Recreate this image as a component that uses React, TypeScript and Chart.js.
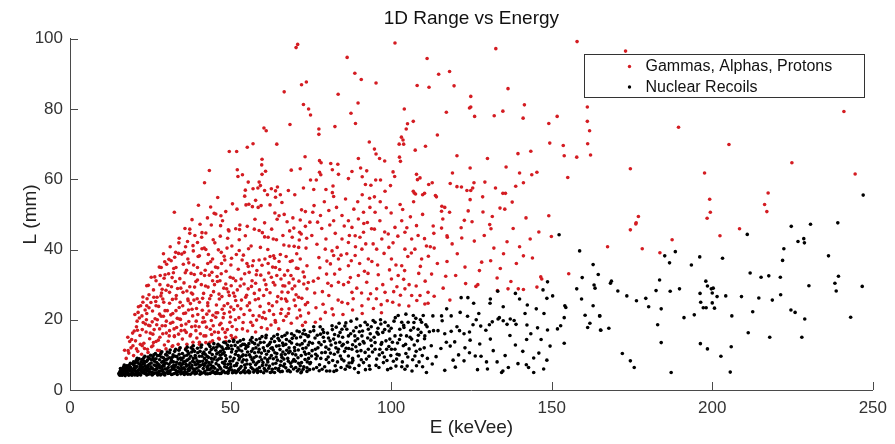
import React, { useEffect, useRef } from "react";
import { Chart, registerables } from "chart.js";

Chart.register(...registerables);

const TITLE = "1D Range vs Energy";
const X_LABEL = "E (keVee)";
const Y_LABEL = "L (mm)";
const SERIES_NAMES = ["Gammas, Alphas, Protons", "Nuclear Recoils"];
const X_TICKS = [0, 50, 100, 150, 200, 250];
const Y_TICKS = [0, 20, 40, 60, 80, 100];

// Gammas, Alphas, Protons  [E (keVee), L (mm)]
const gammaPoints: [number, number][] = [
  [70.9,98.4],[70.4,97.5],[101.2,98.8],[86.3,94.7],[88.7,90.2],[90.7,88.4],[95.3,87.4],[72.1,86.9],[73.6,87.7],[66.7,84.9],[83.5,84.2],[89.7,81.7],[72.7,81.3],[74.3,80.0],[74.9,78.3],[87.5,78.8],[68.5,75.6],[88.9,75.9],[82.5,75.0],[60.4,74.6],[61.1,73.8],[77.5,74.3],[77.5,72.8],[93.2,70.6],[64.4,70.0],[57.0,70.1],[55.2,69.1],[49.6,67.9],[51.9,67.9],[94.8,68.6],[95.3,67.2],[96.4,65.9],[98.0,65.2],[73.2,66.4],[59.8,65.7],[59.7,64.1],[43.4,62.5],[41.9,59.0],[52.1,62.7],[52.3,60.8],[53.7,61.3],[60.9,62.3],[59.8,61.4],[68.9,62.6],[71.7,63.0],[77.7,65.3],[78.2,64.7],[81.2,64.5],[83.4,64.3],[77.7,62.0],[78.1,61.3],[81.7,62.7],[83.6,61.4],[89.8,65.9],[90.5,63.2],[92.4,62.4],[87.8,62.2],[86.7,60.2],[91.0,60.7],[100.6,62.1],[101.1,60.8],[99.8,58.2],[92.0,58.5],[93.7,58.3],[95.2,59.8],[96.7,59.8],[98.1,56.6],[74.9,59.8],[76.7,59.8],[55.5,59.2],[57.0,57.3],[58.9,59.2],[59.3,58.2],[58.5,57.5],[60.6,56.8],[62.7,57.3],[64.0,56.7],[64.6,57.8],[65.5,55.6],[64.0,54.9],[68.0,56.8],[72.7,57.5],[75.9,57.1],[79.7,57.1],[81.7,56.2],[81.9,58.1],[82.1,55.1],[91.0,55.6],[94.8,55.0],[54.6,56.9],[54.4,55.2],
  [157.9,99.2],[173.0,96.5],[132.6,97.2],[111.2,94.4],[114.8,89.9],[118.2,90.7],[108.1,86.7],[111.8,86.2],[119.6,86.6],[136.4,85.8],[124.8,83.6],[124.8,80.6],[124.4,80.3],[104.1,80.0],[117.2,79.1],[126.0,77.9],[132.1,78.1],[134.8,79.4],[141.5,81.2],[141.1,77.4],[161.1,80.6],[161.1,76.5],[161.8,73.8],[161.2,70.1],[162.1,66.9],[151.7,77.9],[149.1,75.9],[106.9,76.5],[105.1,75.8],[104.7,74.3],[103.2,72.0],[103.7,71.2],[103.9,70.0],[102.5,70.0],[114.4,72.6],[110.7,69.4],[107.5,68.3],[149.4,70.3],[153.6,69.6],[153.9,66.7],[157.8,66.3],[143.5,68.0],[139.5,67.3],[120.5,66.7],[130.0,65.9],[102.6,66.3],[102.9,65.1],[124.6,63.2],[135.8,63.5],[119.1,61.8],[140.0,61.8],[143.8,61.3],[145.4,62.0],[174.5,63.0],[155.0,60.5],[107.9,61.4],[108.2,59.9],[109.0,60.4],[111.7,58.5],[112.8,59.0],[118.4,58.8],[120.5,57.9],[121.9,57.8],[123.6,56.8],[124.8,56.8],[125.8,59.0],[125.4,57.5],[129.2,59.2],[132.5,57.5],[134.8,56.0],[135.6,56.0],[138.8,58.0],[141.2,59.0],[106.9,56.6],[107.2,56.1],[107.6,55.8],[109.8,55.6],[110.4,56.0],[113.8,55.4],[114.1,55.0],
  [189.5,74.8],[205.2,69.9],[197.6,61.8],[224.8,64.7],[241.0,79.3],[244.5,61.5],[217.4,56.1],[216.3,52.8],[217.0,50.8],[199.2,54.3],[199.4,50.6],[198.4,48.9],[177.0,49.4],[176.3,47.6],[176.2,47.3],[174.5,45.6],[208.5,45.9],[202.4,43.9],[187.5,42.8],[178.2,40.2],[183.7,39.1],
  [115.8,52.3],[116.7,52.0],[115.7,50.9],[118.2,50.6],[124.6,54.2],[133.9,51.8],[135.4,51.5],[137.7,53.5],[124.0,51.0],[128.6,50.7],[131.5,49.4],[116.1,48.7],[122.8,48.3],[125.2,47.9],[113.1,46.7],[113.3,44.6],[121.8,46.2],[130.7,47.1],[131.1,45.9],[115.7,46.1],[117.4,43.9],[117.5,43.5],[149.1,49.6],[149.9,43.7],[143.3,43.0],[136.1,42.2],[140.0,40.8],[112.2,40.8],[113.4,40.4],[111.6,38.1],[120.6,38.8],[135.0,38.8],[141.2,38.2],[117.4,36.6],[128.2,36.4],[131.0,36.8],[167.4,40.8],[155.3,33.1],[117.0,32.4],[133.0,31.9],[146.6,32.2],[146.9,31.6],[123.2,30.3],[126.4,29.5],[127.0,30.0],[137.3,30.9],[133.1,28.3],[136.4,28.8],[139.6,28.8],[141.2,28.6],[145.4,29.3],[113.4,26.7],[118.3,25.6],[111.5,24.7],
  [112.6,33.0],[114.4,36.0],[116.2,29.0],[119.0,41.6],[120.1,32.6],[122.0,43.3],[123.0,35.0],[125.9,42.4],[127.5,34.0],[129.0,44.0],[132.0,40.4],[134.0,34.6],[138.0,46.0],[139.0,36.0],[142.0,49.0],[144.0,37.6],[146.0,45.0],[128.5,55.0],
  [32.5,50.6],[37.3,45.8],[37.3,44.6],[33.9,41.9],[29.1,38.8],[38.3,41.1],[32.9,39.2],[33.8,38.9],[41.0,43.5],[41.1,40.2],[42.3,44.7],[43.8,52.1],[44.9,50.3],[45.4,50.1],[47.0,49.6],[47.5,48.2],[46.9,46.8],[50.6,53.0],[54.8,52.7],[55.7,52.9],[56.8,52.2],[58.6,52.0],[59.5,52.5],[62.3,52.7],[63.8,50.4],[65.1,49.6],[66.7,50.0],[72.1,51.3],[73.3,50.8],[71.7,48.4],[73.3,46.6],[51.6,45.9],[52.8,45.7],[49.5,45.3],[49.1,43.2],[52.7,42.8],[55.2,46.6],[57.4,45.8],[58.9,45.4],[60.6,43.6],[59.9,44.8],[61.7,43.5],[63.3,43.0],[64.3,42.8],[66.6,41.3],[68.2,41.0],[69.8,40.9],[71.2,40.6],[71.4,42.7],[68.4,45.3],[69.7,46.1],[71.5,44.9],[69.2,43.5],[73.7,43.2],[41.8,40.4],[42.3,40.0],[45.1,41.9],[46.2,39.9],[47.1,39.2],[48.9,40.4],[48.0,38.1],[50.3,37.5],[52.7,39.7],[54.0,38.4],[55.6,40.2],[56.8,35.4],[55.5,35.2],[58.9,37.0],[60.7,37.3],[62.3,38.0],[63.4,38.2],[63.7,37.5],[65.5,38.6],[67.3,38.0],[69.2,36.8],[71.7,37.3],[73.8,35.4],[70.5,34.7],[64.0,34.9],[67.8,34.0],
  [28.1,32.6],[29.6,32.8],[30.7,33.1],[32.2,33.4],[33.0,34.9],[35.3,35.8],[36.3,34.1],[37.7,33.2],[38.7,32.9],[39.7,34.9],[39.7,31.3],[41.9,32.6],[43.4,32.7],[44.2,33.5],[44.4,31.1],[45.8,32.3],[46.7,31.1],[47.1,33.1],[48.5,30.2],[49.9,32.1],[50.2,29.7],[51.6,31.1],[52.1,28.5],[54.2,30.2],[55.5,28.8],[54.7,26.4],[56.7,31.1],[57.8,30.4],[59.4,32.7],[60.5,31.3],[61.9,33.3],[62.7,32.1],[64.4,32.6],[65.7,31.6],[66.3,29.7],[68.2,30.5],[69.2,28.8],[71.3,31.0],[72.8,30.2],[73.8,28.8],
  [24.6,27.1],[22.4,21.1],[23.5,18.8],[24.9,18.3],[25.8,15.9],[27.2,20.0],[27.9,17.4],[29.1,21.0],[29.7,18.3],[31.0,16.9],[32.0,19.3],[32.5,15.4],[34.1,20.2],[34.6,16.9],[36.1,18.8],[37.4,15.4],[38.2,21.1],[39.2,16.9],[40.3,13.6],[41.3,19.3],[42.3,15.4],[43.6,13.6],[44.6,18.3],[45.4,20.7],[46.3,14.7],[47.5,17.4],[48.5,13.8],[49.8,19.3],[50.6,14.7],[51.6,15.0],[53.2,23.1],[53.7,17.4],[55.2,24.0],[56.3,19.3],[57.8,16.5],[58.9,21.1],[60.4,22.1],[61.4,17.4],[63.0,24.0],[64.0,19.3],[65.6,21.8],[67.1,25.9],[68.2,23.1],[70.2,24.0],[71.8,21.1],[73.3,19.3],[19.6,12.6],[18.1,11.2],[20.7,11.7],[22.5,12.6],[24.3,10.7],[25.8,12.6],[27.9,11.2],[29.9,11.7],[32.0,12.6],[34.1,11.8],[36.1,11.9],[38.2,12.5],[40.3,13.0],[42.3,13.5],[44.4,14.0],[46.5,14.5],[48.5,15.0],[50.2,15.5],
  [22.7,25.0],[21.2,22.1],[23.9,24.0],[26.1,26.4],[26.8,24.0],[28.9,25.9],[31.0,27.8],[28.7,28.7],[33.1,26.9],[35.1,24.0],[36.7,25.9],[38.2,27.3],[40.3,25.0],[42.9,24.0],[41.3,26.1],[43.9,26.9],[46.5,25.9],[48.0,24.0],[49.6,26.9],[51.6,25.5],[50.1,23.6],[35.6,39.2],[40.3,38.2],[36.7,37.3],[44.4,37.3],[42.9,36.0],[23.9,29.7],[26.8,31.1],[25.3,32.1],[28.4,34.9],[30.1,35.8],[31.5,36.8],
  [17.5,9.0],[18.3,10.5],[19.0,12.0],[19.8,9.8],[20.4,14.0],[21.1,11.0],[21.8,15.5],[22.3,10.2],[23.0,13.3],[23.7,16.5],[24.1,11.6],[24.8,14.6],[25.4,12.3],[26.2,17.2],[26.8,13.8],[27.3,11.3],[28.0,15.0],[28.7,18.3],[29.4,12.8],[30.0,16.2],[30.6,13.9],[31.3,19.0],[31.8,12.4],[32.5,15.2],[33.2,17.8],[33.7,13.0],[34.4,20.1],[35.0,14.5],[35.7,17.0],[36.4,13.0],[37.0,19.5],[37.6,15.8],[38.3,13.6],[39.0,18.2],[39.5,14.8],[17.0,11.3],[18.6,13.8],[19.5,16.2],[20.7,18.0],[21.6,20.5],[22.8,19.2],[23.9,21.8],[24.5,18.4],[25.7,22.5],[26.5,20.3],[27.6,23.8],[28.4,21.0],[29.2,25.0],[30.3,22.6],[31.0,24.7],[32.0,21.8],[33.0,26.0],[34.0,23.5],[35.2,27.8],[36.0,21.9],[36.8,25.4],[38.0,23.0],[38.8,29.3],[39.8,21.5],[40.6,16.0],[41.5,20.6],[42.5,17.9],[43.3,22.5],[44.0,19.8],[45.0,16.5],[46.0,22.0],[47.0,19.0],[48.0,21.8],[49.0,17.2],[50.0,20.8],[18.0,15.0],[22.0,24.0],[24.0,26.0],[26.0,28.5],[28.0,30.0],[21.0,17.0],
  [40.9,30.0],[41.6,27.5],[42.1,34.1],[43.0,29.3],[43.8,36.5],[44.7,28.0],[45.3,35.0],[45.9,30.9],[46.4,27.3],[47.2,36.0],[47.9,29.0],[48.6,33.8],[49.3,27.9],[50.1,35.6],[50.8,31.8],[51.3,26.7],[52.4,34.4],[53.0,29.6],[53.6,37.0],[54.4,33.1],[55.0,27.0],[55.8,33.5],[56.5,29.5],[57.1,36.8],[57.7,25.7],[58.2,34.0],[59.0,28.5],[59.8,35.5],[60.3,26.9],[61.0,30.0],[61.7,36.0],[62.3,27.7],[63.1,35.0],[63.8,29.9],[64.7,26.6],[65.3,34.3],[66.0,27.9],[66.8,32.7],[67.5,25.3],[68.6,36.6],[69.5,31.6],[70.4,27.1],[71.0,34.6],[72.2,26.1],[73.0,32.2],[74.0,24.9],
  [41.2,22.7],[42.0,19.4],[42.9,24.8],[43.7,17.3],[44.5,21.3],[45.6,24.2],[46.6,18.6],[47.4,23.0],[48.3,16.4],[49.1,24.6],[50.5,18.1],[51.0,22.9],[51.9,17.2],[52.6,20.6],[53.4,25.6],[54.2,21.5],[55.3,16.8],[56.0,22.7],[56.9,18.4],[57.4,27.5],[58.1,19.9],[59.2,23.8],[59.6,17.8],[60.9,20.3],[61.9,24.6],[62.6,18.5],[63.4,21.5],[64.4,25.1],[65.0,17.4],[65.9,23.0],[66.5,19.8],[67.3,21.0],[67.9,27.8],[68.9,19.0],[69.8,25.6],[70.7,20.5],[71.5,22.8],[72.4,18.4],[73.3,24.3],[74.3,21.9],
  [20.2,21.5],[21.3,23.7],[22.7,26.5],[23.4,22.8],[24.4,29.8],[25.2,24.9],[26.4,32.2],[27.1,26.4],[27.8,35.0],[28.5,27.6],[29.3,31.8],[29.9,28.4],[30.8,37.2],[31.6,29.4],[32.3,34.6],[33.5,28.9],[34.2,31.7],[34.8,38.7],[35.5,30.5],[36.4,28.2],[37.0,36.2],[37.8,27.6],[38.5,35.6],[39.2,30.9],[39.9,38.0],[36.6,42.3],[38.9,44.0],[35.8,46.0],[40.5,47.2],[34.0,43.2],[31.2,40.8],[29.5,36.5],[33.0,22.6],[37.5,24.6],[39.6,26.0],
  [19.2,14.4],[20.0,16.8],[20.9,19.6],[21.9,13.0],[22.5,17.2],[23.2,11.8],[23.8,20.0],[24.6,23.4],[25.0,16.2],[25.6,19.4],[26.0,13.5],[26.7,25.2],[27.0,18.6],[27.5,14.2],[27.9,21.6],[28.3,26.8],[28.9,16.0],[29.6,22.6],[30.0,19.6],[30.5,29.8],[30.9,15.4],[31.4,21.4],[31.9,25.8],[32.4,17.4],[32.8,30.9],[33.4,20.4],[33.8,15.9],[34.3,25.0],[34.7,18.4],[35.4,21.8],[35.9,33.4],[36.2,16.4],[36.9,22.8],[37.3,29.4],[37.9,18.0],[38.4,39.6],[38.6,25.6],[39.3,19.6],[39.7,42.0],[39.4,23.2],[34.5,29.0],[32.6,37.8],[36.0,40.8],[31.8,32.0],
  [40.2,18.0],[40.8,33.2],[41.1,44.8],[41.7,15.4],[42.2,29.6],[42.6,21.6],[43.1,38.6],[43.5,26.0],[44.1,15.8],[44.6,42.8],[45.0,30.0],[45.5,22.0],[46.0,34.8],[46.2,16.4],[46.8,43.8],[47.3,26.6],[47.7,20.6],[48.2,37.0],[48.8,28.8],[49.3,45.6],[49.7,22.2],[50.4,41.0],[50.9,27.6],[51.5,20.0],[51.8,38.6],[52.2,24.0],[52.9,47.0],[53.3,31.6],[53.9,19.2],[54.6,43.9],[55.1,36.0],[55.9,24.8],[56.4,41.0],[57.0,21.2],[57.6,48.6],[58.0,32.8],[58.7,26.0],[59.3,40.6],[59.9,20.6],[60.6,47.6],[61.2,28.6],[61.6,40.0],[62.1,22.6],[62.8,45.8],[63.3,30.6],[63.9,19.8],[64.5,48.6],[65.1,36.6],[65.8,26.0],[66.3,44.0],[66.9,29.6],[67.6,47.9],[68.0,21.8],[68.8,32.6],[69.4,49.0],[70.0,29.6],[70.6,38.8],[71.2,26.4],[72.0,44.4],[72.6,33.6],[73.5,40.4],[74.2,30.6],[74.7,47.8],[44.0,47.0],[48.5,50.8],[52.0,51.5],[57.8,54.0],[61.5,55.6],[66.0,53.4],[70.0,55.6],[46.0,54.8],[42.8,49.0],[38.0,48.5],[40.0,52.6],
  [76.0,52.5],[75.6,50.6],[78.0,49.7],[80.6,51.1],[82.1,48.2],[84.7,49.7],[86.7,48.2],[87.8,46.3],[89.8,48.7],[91.4,50.6],[93.4,52.0],[95.0,50.6],[96.5,48.2],[93.9,45.9],[91.4,44.9],[88.8,43.9],[86.7,42.0],[84.7,43.0],[83.2,40.6],[82.1,38.3],[79.5,40.1],[77.5,37.7],[81.1,35.9],[83.6,37.3],[86.7,35.4],[88.8,38.3],[90.9,40.1],[92.9,37.3],[95.5,40.1],[97.1,43.0],[99.1,44.4],[101.2,46.3],[103.3,48.2],[104.3,44.9],[106.4,43.0],[107.9,46.8],[107.4,40.1],[109.5,37.3],[104.3,28.8],[102.2,32.6],[100.1,31.6],[98.1,27.8],[95.5,28.8],[92.9,25.9],[90.9,24.0],[87.8,27.8],[84.7,25.0],[81.6,23.1],[79.5,22.1],[78.0,20.2],[76.4,19.3],[80.6,26.9],[83.6,30.7],[86.7,30.7],[89.8,32.6],[92.4,30.7],[100.1,37.3],[103.3,35.4],[104.3,40.1],[106.4,26.9],[109.0,26.9],[111.5,27.8],
  [75.3,44.0],[76.9,41.5],[78.4,46.0],[79.9,33.0],[81.4,29.7],[82.6,44.6],[84.0,34.4],[85.4,46.7],[86.2,38.8],[87.3,32.0],[88.4,51.5],[89.3,29.0],[90.3,43.5],[91.7,33.8],[92.6,47.7],[93.6,27.4],[94.4,41.6],[95.8,35.6],[96.9,24.3],[97.8,38.9],[98.5,51.9],[99.5,34.2],[100.6,41.9],[101.8,29.4],[102.8,52.8],[103.9,31.5],[105.2,38.0],[106.0,49.3],[108.6,33.2],[110.4,43.1],[76.2,27.6],[77.3,31.8],[78.8,24.4],[80.0,36.7],[82.0,21.4],[85.0,21.5],[88.0,22.8],[91.0,21.8],[94.5,23.2],[97.0,22.0],[100.5,25.0],[102.5,24.2],[105.5,23.9],[108.0,25.5],[110.5,24.5],
  [75.8,31.0],[76.6,23.4],[77.1,47.8],[77.8,34.8],[78.6,28.0],[79.2,53.6],[79.7,43.0],[80.3,30.4],[80.9,47.0],[81.6,39.6],[82.4,33.0],[83.0,52.0],[83.5,25.6],[84.4,38.4],[85.2,30.0],[85.8,54.4],[86.5,24.6],[87.0,44.0],[87.6,36.8],[88.2,26.0],[88.9,40.8],[89.6,53.6],[90.2,36.0],[90.8,27.6],[91.5,47.4],[92.1,41.6],[92.8,33.2],[93.3,54.6],[94.0,36.6],[94.8,45.8],[95.4,26.0],[96.0,32.8],[96.6,53.6],[97.4,30.0],[98.0,45.0],[98.8,25.4],[99.3,40.6],[100.0,50.4],[100.8,28.0],[101.5,35.6],[102.1,43.8],[102.9,27.0],[103.6,51.4],[104.2,34.0],[104.9,46.2],[105.6,30.0],[106.3,39.0],[107.0,53.6],[107.8,29.6],[108.4,44.0],[109.1,35.2],[109.8,50.0],[110.6,31.0],[111.0,41.0]
];

// Nuclear Recoils  [E (keVee), L (mm)]
const recoilPoints: [number, number][] = [
  [15.2,4.6],[15.6,5.3],[15.9,4.3],[16.1,6.0],[16.4,4.9],[16.8,5.6],[17.0,4.4],[17.3,6.5],[17.5,5.1],[17.9,4.7],[18.2,5.9],[18.4,7.0],[18.7,4.5],[18.9,6.4],[19.2,5.2],[19.5,7.4],[19.7,4.8],[19.9,6.1],[15.8,5.0],[16.6,5.2],[17.7,5.5],[18.0,6.8],[19.0,4.4],[16.9,7.1],
  [15.4,4.9],[15.7,6.1],[16.2,5.5],[16.5,4.5],[16.7,6.6],[17.1,5.8],[17.4,4.8],[17.8,6.2],[18.1,4.9],[18.5,5.6],[18.8,7.6],[19.1,6.0],[19.4,4.9],[19.6,5.7],[20.0,7.0],[20.4,6.3],[20.7,4.9],[21.1,7.7],[21.3,5.6],[21.6,4.6],[21.8,6.6],[22.1,8.0],[22.3,5.2],[22.7,7.5],[23.2,5.6],[23.4,6.9],[23.7,4.9],[24.1,8.5],[24.4,5.9],[24.8,7.4],
  [15.5,4.2],[15.9,5.6],[16.3,4.2],[16.6,6.3],[17.2,4.1],[17.6,6.9],[18.3,4.2],[18.6,6.6],[19.3,4.2],[19.8,8.0],[20.2,4.3],[20.6,8.4],[21.0,4.2],[21.5,8.9],[22.0,4.3],[22.5,6.1],[22.9,8.3],[23.3,9.6],[23.9,4.3],[24.3,9.4],[24.7,5.2],[25.1,9.9],[25.6,4.3],[26.0,8.8],[26.6,10.4],[27.0,7.8],[27.3,4.3],[27.8,9.8],[28.2,4.3],[28.6,10.9],[29.0,7.0],[29.5,4.3],[29.9,8.7],[30.3,10.8],[30.6,6.4],[31.2,11.4],[31.6,4.4],[32.0,9.4],[32.4,6.4],[32.9,11.6],[33.4,4.4],[33.9,7.4],[34.3,12.0],[34.6,6.9],[35.2,9.1],[35.6,4.4],[36.0,8.2],[36.5,12.2],[37.0,7.1],[37.5,4.5],[37.9,10.8],[38.4,12.6],[38.8,5.8],[39.2,9.1],[39.7,11.9],
  [20.1,5.6],[20.3,7.8],[20.5,4.6],[20.8,6.7],[21.0,8.4],[21.2,5.0],[21.5,6.0],[21.7,7.3],[21.9,4.4],[22.2,5.8],[22.4,8.7],[22.6,6.6],[22.9,5.2],[23.1,7.6],[23.3,4.7],[23.6,6.3],[23.8,8.1],[24.0,5.5],[24.3,7.0],[24.5,4.5],[24.7,9.0],[24.9,6.0],[20.6,5.4],[21.4,4.8],[22.0,7.1],[22.8,4.9],[23.5,5.9],[24.2,6.6],[20.9,9.0],[23.0,9.2],
  [25.1,5.1],[25.3,7.7],[25.6,6.2],[25.8,9.4],[26.0,4.6],[26.3,8.2],[26.5,5.7],[26.7,6.9],[27.0,4.9],[27.2,9.8],[27.4,7.4],[27.7,5.3],[27.9,8.6],[28.1,6.3],[28.4,4.5],[28.6,7.9],[28.8,5.8],[29.1,9.2],[29.3,6.8],[29.6,4.8],[29.8,10.1],[25.5,4.4],[26.1,10.0],[26.9,5.9],[27.6,6.8],[28.3,10.4],[29.0,5.2],[29.5,7.5],[25.9,5.9],[28.9,8.1],
  [25.2,6.6],[25.4,8.6],[25.7,5.0],[26.2,7.1],[26.4,4.8],[26.8,8.9],[27.1,6.2],[27.5,4.6],[27.8,7.1],[28.2,5.4],[28.5,9.4],[28.7,6.7],[29.2,4.6],[29.4,8.4],[29.7,6.0],[30.0,7.7],[30.4,5.2],[30.9,9.2],[31.1,4.8],[31.6,8.5],[31.8,5.9],[32.3,7.0],[32.5,4.7],[32.8,9.6],[33.2,7.9],[33.5,5.2],[33.7,8.8],[34.1,6.1],[34.4,9.1],[34.8,4.9],[35.0,10.4],[35.4,8.0],[35.7,5.2],[36.1,7.3],[36.4,9.9],[36.8,5.4],[37.3,6.4],[37.6,9.6],[38.2,8.2],[38.5,6.0],[38.7,7.9],[39.0,9.8],[39.4,4.8],[39.7,7.4],[36.6,11.0],[38.3,11.5],
  [30.1,6.0],[30.3,8.8],[30.5,4.7],[30.8,7.3],[31.0,10.6],[31.2,5.5],[31.5,9.1],[31.7,6.6],[31.9,4.5],[32.2,8.0],[32.4,5.9],[32.6,11.0],[32.9,7.1],[33.1,4.9],[33.3,9.5],[33.6,6.4],[33.8,5.2],[34.0,10.2],[34.3,7.7],[34.5,4.6],[34.7,8.6],[34.9,6.1],[30.7,5.4],[31.4,7.9],[32.1,10.0],[33.0,5.6],[33.9,11.3],[34.6,5.5],[30.2,9.9],[32.7,6.8],
  [35.1,7.4],[35.3,4.8],[35.6,9.7],[35.8,5.9],[36.0,11.5],[36.3,6.8],[36.5,8.5],[36.7,4.5],[37.0,10.4],[37.2,5.6],[37.4,7.7],[37.7,12.0],[37.9,6.3],[38.1,4.9],[38.4,9.0],[38.6,5.4],[38.8,11.0],[39.1,7.2],[39.3,5.1],[39.6,8.3],[39.8,10.6],[35.5,6.3],[36.2,4.9],[37.1,8.9],[38.0,7.0],[38.9,4.6],[39.5,6.2],[36.9,6.0],
  [40.1,5.5],[40.3,9.6],[40.6,7.0],[40.8,12.2],[41.0,4.8],[41.3,8.2],[41.5,6.1],[41.7,10.8],[42.0,5.3],[42.2,7.6],[42.4,11.6],[42.7,6.5],[42.9,4.6],[43.1,9.3],[43.4,5.8],[43.6,12.4],[43.8,7.2],[44.1,5.0],[44.3,10.1],[44.6,6.7],[44.8,8.8],[40.5,11.0],[41.9,9.0],[43.0,6.9],[44.0,11.5],[44.9,4.9],
  [40.2,6.6],[40.4,8.1],[40.7,5.1],[41.1,9.6],[41.4,7.3],[41.8,4.9],[42.1,10.2],[42.5,8.4],[42.8,5.8],[43.2,7.8],[43.5,10.7],[43.9,6.2],[44.2,8.0],[44.5,5.4],[44.7,12.0],[45.2,9.4],[45.5,7.5],[45.7,10.3],[46.0,5.7],[46.4,8.9],[46.7,6.4],[47.1,9.0],[47.4,5.1],[47.7,11.5],[48.1,7.4],[48.4,9.8],[48.8,6.4],[49.1,12.7],[49.3,5.3],[49.8,8.2],[50.1,6.6],[50.3,10.8],[50.6,4.9],[51.1,9.0],[51.4,12.7],[51.8,7.0],[52.1,5.3],[52.4,9.8],[52.9,6.2],[53.2,12.6],[53.6,8.0],[53.9,10.0],[54.2,5.6],[54.7,11.8],[55.0,8.5],[55.3,5.2],[55.7,13.2],[56.1,7.3],[56.5,11.0],[56.9,6.0],[57.3,9.2],[57.6,5.6],[57.9,12.0],[58.2,7.7],[58.7,10.8],[59.0,6.4],[59.3,13.5],[59.7,8.6],[56.8,13.6],[53.8,13.0],
  [40.0,7.9],[40.5,4.5],[41.0,12.8],[41.4,10.4],[41.8,7.0],[42.3,4.6],[42.7,9.6],[43.2,13.0],[43.6,4.7],[44.0,9.0],[44.4,6.6],[44.8,13.2],[45.3,4.7],[45.7,12.2],[46.2,10.6],[46.6,12.6],[47.0,4.7],[47.5,10.3],[47.9,13.6],[48.3,8.2],[48.7,11.8],[49.2,4.8],[49.6,13.9],[50.0,7.4],[50.5,11.6],[51.0,14.2],[51.3,5.5],[51.8,11.0],[52.2,13.6],[52.6,8.6],[53.1,4.9],[53.5,9.6],[54.0,14.4],[54.4,7.1],[54.9,12.6],[55.3,10.8],[55.8,4.9],[56.3,9.4],[56.7,14.9],[57.1,8.0],[57.5,10.6],[58.0,14.3],[58.4,5.0],[58.9,11.6],[59.2,9.4],[59.8,15.2],
  [45.1,6.2],[45.4,11.3],[45.6,5.1],[45.8,8.5],[46.1,13.0],[46.3,7.0],[46.6,4.7],[46.8,9.9],[47.0,6.0],[47.3,12.2],[47.5,7.8],[47.8,5.4],[48.0,10.7],[48.2,6.6],[48.5,13.4],[48.7,8.9],[48.9,5.0],[49.2,7.3],[49.4,11.9],[49.7,6.1],[49.9,9.4],[45.9,4.8],[46.9,11.0],[48.3,4.9],[49.5,5.6],
  [50.2,12.6],[50.4,5.7],[50.7,8.3],[50.9,13.8],[51.2,6.9],[51.5,10.2],[51.7,4.9],[52.0,7.6],[52.3,12.0],[52.5,5.8],[52.8,9.1],[53.0,14.0],[53.3,6.7],[53.5,11.1],[53.8,5.2],[54.0,8.6],[54.3,13.0],[54.6,6.3],[54.8,9.9],[51.0,5.1],[52.7,11.4],[54.5,4.9],
  [55.1,7.4],[55.4,12.4],[55.6,5.5],[55.9,10.0],[56.2,14.2],[56.4,6.4],[56.7,8.7],[57.0,11.7],[57.2,5.1],[57.5,13.2],[57.8,7.2],[58.0,9.6],[58.3,6.0],[58.6,12.8],[58.8,8.1],[59.1,14.6],[59.4,5.3],[59.6,10.5],[59.9,7.0],[56.0,5.1],[58.5,5.4],
  [60.2,12.0],[60.5,6.1],[60.7,9.1],[61.0,14.9],[61.3,5.4],[61.6,8.0],[61.8,11.0],[62.1,6.8],[62.4,13.6],[62.7,9.8],[62.9,5.2],[63.2,7.4],[63.5,15.3],[63.8,10.6],[64.0,6.2],[64.3,12.5],[64.6,8.5],[64.9,5.6],[61.1,7.1],[63.0,12.0],
  [60.1,7.8],[60.4,13.6],[60.8,5.6],[61.2,10.2],[61.5,12.6],[61.9,6.2],[62.2,9.1],[62.6,11.9],[63.0,5.9],[63.3,8.9],[63.7,13.8],[64.1,7.6],[64.4,10.4],[64.8,14.7],[65.0,6.1],[65.4,11.5],[65.7,8.2],[66.2,13.4],[66.5,6.8],[67.0,10.2],[67.4,14.4],[67.7,5.4],[68.0,8.2],[68.5,11.0],[68.9,6.7],[69.2,14.7],[69.7,8.7],[70.0,11.2],[70.3,6.4],[70.7,13.0],[71.0,9.2],[71.3,5.9],[71.8,15.1],[72.1,7.8],[72.5,11.8],[72.8,6.6],[73.1,14.0],[73.4,10.2],[73.9,8.0],[74.2,12.8],[74.6,5.8],[74.8,16.6],
  [60.3,4.9],[60.6,11.2],[61.1,15.6],[61.5,8.6],[62.0,13.0],[62.4,5.0],[62.8,14.6],[63.3,11.4],[63.7,5.0],[64.2,9.4],[64.6,15.8],[65.1,12.6],[65.5,5.2],[66.0,15.2],[66.3,10.8],[66.8,7.4],[67.2,13.0],[67.6,16.2],[68.1,10.6],[68.6,5.2],[69.0,13.4],[69.4,8.2],[69.8,15.5],[70.3,10.0],[70.7,16.8],[71.2,7.6],[71.6,12.8],[72.1,5.2],[72.5,16.0],[73.0,10.8],[73.4,15.8],[73.8,5.3],[74.3,9.0],[74.6,13.6],
  [65.2,14.1],[65.5,7.0],[65.8,10.0],[66.1,5.3],[66.4,12.7],[66.6,8.8],[66.9,15.6],[67.2,6.3],[67.5,11.3],[67.8,9.0],[68.1,5.6],[68.4,13.9],[68.7,7.6],[69.0,16.0],[69.3,10.3],[69.6,6.0],[69.9,12.1],[66.0,9.3],[68.2,12.0],
  [70.2,8.2],[70.5,14.8],[70.8,5.4],[71.1,11.4],[71.4,16.6],[71.7,6.9],[72.0,9.8],[72.3,13.2],[72.6,5.9],[72.9,17.0],[73.2,8.7],[73.5,12.0],[73.8,6.3],[74.1,15.2],[74.4,10.4],[74.7,7.5],[71.9,4.9],
  [74.3,15.4],[75.9,16.9],[77.5,13.5],[79.0,16.4],[80.6,11.6],[82.1,14.5],[83.6,15.4],[84.7,12.6],[86.2,17.3],[86.7,9.7],[88.8,14.0],[90.4,18.3],[90.9,15.4],[91.9,10.7],[92.9,17.3],[93.9,12.6],[95.0,19.3],[96.0,15.9],[97.1,13.5],[97.6,7.8],[99.1,18.3],[100.1,11.6],[101.2,15.4],[102.2,21.2],[102.7,17.3],[103.8,12.6],[104.3,5.9],[105.3,19.3],[106.4,14.5],[107.4,9.7],[108.4,17.3],[109.0,11.6],[110.0,21.2],[110.5,15.4],[111.0,5.0],
  [74.9,7.8],[77.0,9.7],[78.5,5.9],[80.6,7.8],[82.6,6.9],[84.2,9.7],[85.7,5.9],[87.8,7.8],[89.8,5.0],[91.4,7.8],[93.4,5.9],[95.5,8.8],[96.5,11.6],[98.1,19.3],[99.6,14.5],[101.7,8.8],[103.3,19.3],[104.8,15.4],[106.9,21.2],[107.9,6.9],[109.5,19.3],[91.9,19.3],[89.3,20.2],[86.7,15.4],[83.6,11.6],[79.5,10.7],[76.4,11.6],[81.6,18.3],[78.0,15.9],[84.7,17.3],[87.8,11.6],[92.9,11.6],[89.8,9.7],[95.0,13.5],[98.6,11.6],[101.2,11.6],
  [76.8,6.4],[78.2,12.9],[79.8,8.7],[81.0,14.0],[82.3,10.2],[83.0,5.6],[84.0,13.6],[85.3,8.3],[86.0,11.9],[87.1,6.5],[88.3,16.8],[89.0,12.3],[75.5,13.3],[77.9,18.0],[80.2,16.2],[82.9,17.9],[85.9,19.1],[88.0,9.0],[90.2,13.0],[93.5,16.0],[96.8,18.8],[99.9,6.2],[104.6,10.4],[107.0,17.7],
  [75.2,9.7],[75.8,6.0],[76.3,14.8],[76.6,8.9],[77.2,12.0],[77.7,7.2],[78.4,10.6],[78.9,15.0],[79.3,6.6],[79.7,12.2],[80.4,9.4],[80.9,5.4],[81.3,12.8],[81.8,8.4],[82.4,15.8],[82.8,12.0],[83.3,8.0],[83.8,19.0],[84.4,6.4],[84.9,15.0],[85.5,11.0],[86.4,13.6],[86.9,7.7],[87.4,16.0],[88.0,12.9],[88.6,6.1],[89.1,17.8],[89.6,14.6],[90.0,7.0],[90.6,11.2],[91.1,16.8],[91.6,13.4],[92.3,8.8],[92.7,14.8],[93.2,6.9],[93.8,18.0],[94.2,10.8],[94.7,15.0],[95.3,7.0],[95.9,17.6],[96.3,10.0],[96.9,13.0],[97.4,16.4],[97.9,9.4],[98.4,14.0],[98.9,5.8],[99.4,16.8],[99.9,9.8],[100.4,13.6],[100.9,19.6],[101.5,6.8],[102.0,13.4],[102.5,10.0],[103.0,15.6],[103.5,8.0],[104.0,17.8],[104.5,13.0],[105.0,6.8],[105.6,11.7],[106.1,17.0],[106.7,8.6],[107.2,12.8],[107.7,20.4],[108.2,14.0],[108.7,8.0],[109.3,16.4],[109.8,6.6],[110.3,12.0],[110.8,18.6],[111.3,9.0],
  [75.4,11.2],[75.9,18.0],[76.5,10.2],[77.0,15.6],[77.6,5.5],[78.1,9.0],[78.7,17.2],[79.2,13.8],[79.9,5.4],[80.5,14.8],[81.1,10.5],[81.7,17.2],[82.2,5.3],[82.7,13.4],[83.4,10.8],[84.1,16.4],[84.6,8.8],[85.1,13.0],[85.6,18.2],[86.3,6.8],[86.8,11.8],[87.5,19.6],[88.1,8.4],[88.7,15.4],[89.4,11.0],[90.1,16.6],[90.7,8.6],[91.3,13.8],[92.0,5.8],[92.6,18.6],[93.1,9.6],[93.7,14.2],[94.4,19.8],[95.0,11.6],[95.6,16.4],[96.2,6.4],[96.7,20.0],[97.3,10.6],[98.0,17.2],[98.7,8.4],[99.3,12.4],[100.0,17.6],[100.7,8.2],[101.3,20.6],[101.9,10.2],[102.6,14.4],[103.3,6.6],[103.9,18.4],[104.6,21.6],[105.2,9.4],[105.9,15.0],[106.5,5.4],[107.1,19.2],[107.8,11.0],[108.5,15.6],[109.1,20.0],[109.7,9.8],[110.4,14.6],[111.2,18.0],
  [152.3,44.2],[158.7,39.6],[162.9,35.7],[164.5,32.9],[159.5,32.0],[157.8,28.8],[159.3,25.9],[163.2,29.9],[163.5,29.0],[168.3,30.4],[168.6,31.0],[148.7,30.8],[150.3,26.8],[148.5,26.1],[147.3,28.5],[154.1,24.0],[154.4,23.5],[162.9,24.0],[160.4,21.3],[164.9,21.1],[161.9,19.0],[161.2,17.8],[165.2,17.1],[153.9,20.6],[152.8,18.3],[151.8,17.4],[153.9,13.3],[148.5,8.5],[144.4,9.1],[142.1,7.2],[142.8,6.4],[144.4,5.0],[134.8,5.4],[134.4,5.0],[116.7,5.6],[130.0,6.0],[133.0,8.0],[129.7,8.0],[122.7,8.3],[119.3,8.5],[121.0,10.0],[124.4,10.6],[126.2,9.7],[128.0,9.6],[138.7,12.8],[142.2,14.4],[146.7,14.4],[148.7,17.1],[145.6,17.7],[142.3,18.5],[138.9,18.7],[136.1,18.7],[134.9,19.7],[133.3,20.2],[131.5,19.4],[130.6,18.6],[129.5,17.0],[127.9,18.2],[126.5,20.0],[125.5,18.6],[124.4,16.5],[122.7,16.0],[121.3,16.9],[120.5,18.0],[118.7,16.7],[116.7,16.0],[114.6,16.9],[113.2,16.9],[111.9,16.6],[112.5,12.6],[117.2,13.6],[118.4,12.5],[119.8,13.7],[124.6,14.2],[127.6,13.1],[130.9,14.5],[121.8,26.3],[123.9,26.3],[125.7,24.7],[130.9,25.9],[130.8,24.7],[133.2,28.1],[134.9,23.7],[138.7,27.5],[140.0,25.9],[142.4,24.2],[145.2,23.1],[147.6,21.8],[141.7,21.8],[137.1,20.2],[138.3,19.8],[133.7,20.6],[117.3,23.1],[115.7,21.1],[113.0,21.1],[115.9,19.7],[118.7,21.1],[121.5,22.1],[123.8,21.0],[127.3,21.8],
  [114.0,9.5],[115.5,11.8],[120.0,6.5],[123.0,12.0],[126.9,5.8],[131.8,11.2],[135.5,9.8],[137.0,15.5],[139.5,7.5],[141.0,11.0],[143.5,16.0],[146.0,10.5],[147.5,6.0],[149.5,12.5],[136.5,6.4],[112.8,7.4],
  [247.0,55.5],[230.6,47.2],[224.6,46.6],[239.1,47.6],[210.9,44.3],[226.7,42.3],[228.5,43.1],[228.7,41.9],[222.3,40.2],[221.9,36.9],[236.2,38.2],[185.2,38.2],[188.5,39.4],[186.7,36.2],[196.1,37.9],[193.5,35.6],[203.2,37.5],[211.8,33.3],[215.2,32.1],[217.6,32.5],[221.2,32.1],[239.3,32.4],[238.2,30.4],[238.6,28.2],[246.7,29.5],[230.1,29.7],[183.6,31.3],[198.0,31.0],[198.5,29.6],[199.7,28.8],[200.3,29.0],[200.0,27.6],[201.5,26.6],[204.2,26.8],[196.2,27.5],[196.4,25.0],[197.2,23.4],[198.1,23.4],[200.0,24.8],[200.7,23.3],[209.1,26.6],[214.5,26.2],[218.7,25.6],[221.3,27.1],[212.6,22.3],[206.1,21.1],[189.8,28.8],[186.9,28.1],[182.5,28.3],[179.3,26.1],[176.4,25.4],[173.4,26.8],[170.6,28.2],[180.2,23.7],[184.1,23.1],[183.0,18.6],[191.2,20.6],[194.4,21.4],[224.5,22.8],[225.8,22.1],[228.8,20.2],[243.1,20.7],[211.2,16.3],[217.9,15.0],[227.9,15.0],[184.1,13.5],[196.3,13.2],[198.5,11.7],[205.9,12.3],[202.7,9.6],[205.6,5.1],[187.2,5.0],[172.0,10.4],[174.5,8.3],[175.7,6.4],[165.0,21.1],[165.3,17.0],[167.8,17.6]
];

const FONT = "'Liberation Sans', Arial, Helvetica, sans-serif";
const AXIS_COLOR = "#4a4a4a";
const TEXT_COLOR = "#333333";
const RED = "#d41c22";
const BLACK = "#000000";

const decorPlugin = {
  id: "matlabDecor",
  afterDraw(chart: any) {
    const { ctx, chartArea, scales } = chart;
    const xs = scales.x;
    const ys = scales.y;
    ctx.save();
    ctx.strokeStyle = AXIS_COLOR;
    ctx.lineWidth = 1;
    xs.ticks.forEach((t: any) => {
      const px = Math.round(xs.getPixelForValue(t.value)) + 0.5;
      ctx.beginPath();
      ctx.moveTo(px, chartArea.bottom);
      ctx.lineTo(px, chartArea.bottom - 8);
      ctx.stroke();
    });
    ys.ticks.forEach((t: any) => {
      const py = Math.round(ys.getPixelForValue(t.value)) + 0.5;
      ctx.beginPath();
      ctx.moveTo(chartArea.left, py);
      ctx.lineTo(chartArea.left + 8, py);
      ctx.stroke();
    });
    const w = 280;
    const h = 43;
    const left = Math.round(chartArea.right - 9 - w) + 0.5;
    const top = Math.round(chartArea.top + 15) + 0.5;
    ctx.fillStyle = "#ffffff";
    ctx.fillRect(left, top, w, h);
    ctx.strokeStyle = "#333333";
    ctx.strokeRect(left, top, w, h);
    ctx.font = `16px ${FONT}`;
    ctx.textBaseline = "middle";
    ctx.textAlign = "left";
    chart.data.datasets.forEach((ds: any, i: number) => {
      const cy = top + 12 + i * 20.5;
      ctx.fillStyle = ds.backgroundColor;
      ctx.beginPath();
      ctx.arc(left + 45, cy, 1.7, 0, Math.PI * 2);
      ctx.fill();
      ctx.fillStyle = "#111111";
      ctx.fillText(ds.label, left + 61, cy + 0.5);
    });
    ctx.restore();
  },
};

export default function App() {
  const canvasRef = useRef<HTMLCanvasElement | null>(null);

  useEffect(() => {
    const canvas = canvasRef.current;
    if (!canvas) return;
    const tickFont = { family: FONT, size: 17 };
    const chart = new Chart(canvas, {
      type: "scatter",
      data: {
        datasets: [
          {
            label: SERIES_NAMES[0],
            data: gammaPoints.map(([x, y]) => ({ x, y })),
            backgroundColor: RED,
            borderWidth: 0,
            pointRadius: 1.8,
            order: 2,
          },
          {
            label: SERIES_NAMES[1],
            data: recoilPoints.map(([x, y]) => ({ x, y })),
            backgroundColor: BLACK,
            borderWidth: 0,
            pointRadius: 1.8,
            order: 1,
          },
        ],
      },
      options: {
        responsive: false,
        animation: false,
        events: [],
        layout: { padding: { left: 0, right: 18, top: 0, bottom: 0 } },
        plugins: {
          legend: { display: false },
          tooltip: { enabled: false },
          title: {
            display: true,
            text: TITLE,
            fullSize: false,
            color: "#111111",
            font: { family: FONT, size: 19, weight: "normal" },
            padding: { top: 7, bottom: 9 },
          },
        },
        scales: {
          x: {
            type: "linear",
            min: 0,
            max: 250,
            afterBuildTicks: (s: any) => {
              s.ticks = X_TICKS.map((v) => ({ value: v }));
            },
            afterFit: (s: any) => {
              s.height = 54;
            },
            grid: { display: false, drawTicks: false },
            border: { display: true, color: AXIS_COLOR, width: 1 },
            ticks: { padding: 8, color: TEXT_COLOR, font: tickFont, maxRotation: 0, autoSkip: false },
            title: {
              display: true,
              text: X_LABEL,
              color: "#222222",
              font: { family: FONT, size: 19 },
              padding: { top: 0, bottom: 5 },
            },
          },
          y: {
            type: "linear",
            min: 0,
            max: 100,
            afterBuildTicks: (s: any) => {
              s.ticks = Y_TICKS.map((v) => ({ value: v }));
            },
            afterFit: (s: any) => {
              s.width = 70;
            },
            grid: { display: false, drawTicks: false },
            border: { display: true, color: AXIS_COLOR, width: 1 },
            ticks: { padding: 7, color: TEXT_COLOR, font: tickFont, autoSkip: false },
            title: {
              display: true,
              text: Y_LABEL,
              color: "#222222",
              font: { family: FONT, size: 19 },
              padding: { top: 19, bottom: 0 },
            },
          },
        },
      },
      plugins: [decorPlugin],
    } as any);
    return () => chart.destroy();
  }, []);

  return (
    <div style={{ position: "absolute", left: 0, top: 0, width: 895, height: 444, background: "#ffffff" }}>
      <canvas ref={canvasRef} width={895} height={444} style={{ display: "block" }} />
    </div>
  );
}
